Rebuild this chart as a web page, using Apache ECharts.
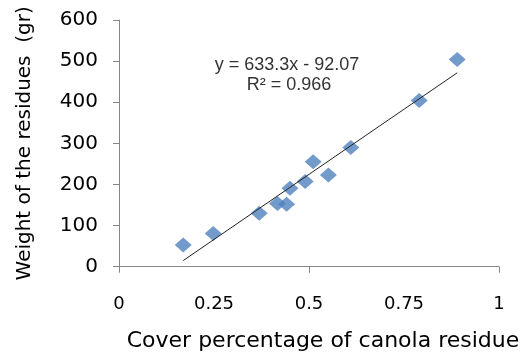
<!DOCTYPE html>
<html>
<head>
<meta charset="utf-8">
<script src="https://cdn.jsdelivr.net/npm/echarts@6/dist/echarts.min.js"></script>
<style>
  html, body { margin: 0; padding: 0; background: #ffffff; }
  #chart { width: 526px; height: 353px; }
</style>
</head>
<body>
<div id="chart"></div>
<script>
// Data
const coverValues  = [0.169, 0.248, 0.369, 0.417, 0.441, 0.450, 0.490, 0.511, 0.551, 0.610, 0.790, 0.890];
const weightValues = [53, 81, 130, 154, 152, 191, 207, 255, 223, 290, 404, 504];
const xTickValues = [0, 0.25, 0.5, 0.75, 1];
const yTickValues = [0, 100, 200, 300, 400, 500, 600];
const trendSlope = 633.3;
const trendIntercept = -92.07;
const trendText = ['y = 633.3x - 92.07', 'R\u00b2 = 0.966'];
const xTitle = 'Cover percentage of canola residue';
const yTitle = 'Weight of the residues  (gr)';

const points = coverValues.map((x, i) => [x, weightValues[i]]);
const xMin = Math.min(...coverValues);
const xMax = Math.max(...coverValues);
const trendLine = [
  [xMin, trendSlope * xMin + trendIntercept],
  [xMax, trendSlope * xMax + trendIntercept]
];

const axisGray = '#868686';
const font = 'DejaVu Sans';

const chart = echarts.init(document.getElementById('chart'), null, { renderer: 'canvas' });
chart.setOption({
  backgroundColor: '#ffffff',
  animation: false,
  grid: { left: 119, top: 20, width: 380, height: 246.7, containLabel: false },
  xAxis: [
    {
      type: 'value',
      min: xTickValues[0],
      max: xTickValues[xTickValues.length - 1],
      interval: 0.25,
      axisLine: { show: true, lineStyle: { color: axisGray, width: 1 } },
      axisTick: { show: false },
      splitLine: { show: false },
      axisLabel: { margin: 29, color: '#000', fontFamily: font, fontSize: 18 }
    },
    {
      type: 'value',
      position: 'bottom',
      min: 0,
      max: 1,
      interval: 0.5,
      axisLine: { show: false },
      axisTick: { show: true, length: 6, lineStyle: { color: axisGray, width: 1 } },
      splitLine: { show: false },
      axisLabel: { show: false }
    }
  ],
  yAxis: {
    type: 'value',
    min: yTickValues[0],
    max: yTickValues[yTickValues.length - 1],
    interval: 100,
    name: yTitle,
    nameLocation: 'middle',
    nameGap: 84,
    nameTextStyle: { color: '#000', fontFamily: font, fontSize: 20 },
    axisLine: { show: true, lineStyle: { color: axisGray, width: 1 } },
    axisTick: { show: true, length: 6, lineStyle: { color: axisGray, width: 1 } },
    splitLine: { show: false },
    axisLabel: { margin: 21, color: '#000', fontFamily: font, fontSize: 20 }
  },
  graphic: [
    {
      type: 'text', x: 323, y: 341,
      style: { text: xTitle, fill: '#000', font: '22px "DejaVu Sans"', textAlign: 'center', textVerticalAlign: 'middle' }
    },
    {
      type: 'text', x: 287, y: 65,
      style: { text: trendText[0], fill: '#333', font: '18px "Liberation Sans"', textAlign: 'center', textVerticalAlign: 'middle' }
    },
    {
      type: 'text', x: 289, y: 85,
      style: { text: trendText[1], fill: '#333', font: '18px "Liberation Sans"', textAlign: 'center', textVerticalAlign: 'middle' }
    }
  ],
  series: [
    {
      type: 'scatter',
      xAxisIndex: 0,
      data: points,
      symbol: 'diamond',
      symbolSize: [17, 15],
      itemStyle: { color: '#4F81BD' },
      z: 2
    },
    {
      type: 'line',
      xAxisIndex: 0,
      data: trendLine,
      symbol: 'none',
      lineStyle: { color: '#222', width: 1 },
      z: 3
    }
  ]
});
</script>
</body>
</html>
